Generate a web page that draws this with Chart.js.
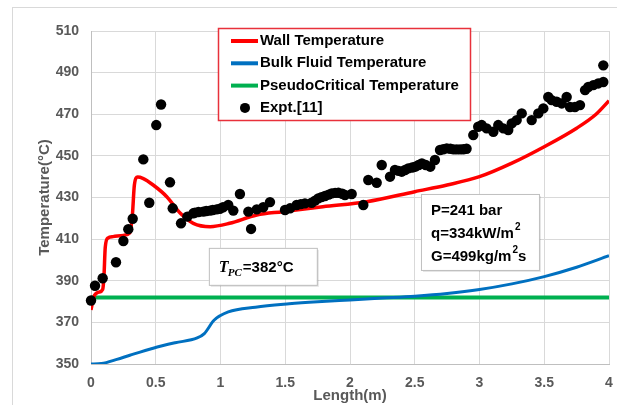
<!DOCTYPE html>
<html>
<head>
<meta charset="utf-8">
<script src="https://cdn.jsdelivr.net/npm/chart.js@4.4.1/dist/chart.umd.min.js"></script>
<style>
  html, body { margin: 0; padding: 0; background: #fff; }
  #wrap { width: 617px; height: 405px; position: relative; }
</style>
</head>
<body>
<div id="wrap"><canvas id="tempChart" width="617" height="405"></canvas></div>
<script>
'use strict';
// colours picked off the excel-ish original
var cWall = '#ff0000';
var cBulk = '#0070c0';
var cPc = '#00b050';
var cGrey = '#595959';
var fontFam = '"Liberation Sans", Arial, sans-serif';

// wall temperature (simulation)
var wallX = [0, 0.02, 0.06, 0.09, 0.1, 0.11, 0.13, 0.17, 0.25, 0.3, 0.32, 0.335, 0.36, 0.4, 0.48, 0.585, 0.69, 0.79, 0.92, 1.07, 1.28, 1.48, 1.79, 2.13, 2.5, 2.75, 3.0, 3.25, 3.5, 3.75, 3.9, 4.0];
var wallY = [376, 382, 384.5, 385.8, 392, 406, 410.5, 411.2, 411.8, 413, 422, 436, 439.8, 439.2, 436, 430.4, 422.4, 417.6, 416, 417.6, 421.6, 423.2, 425.6, 428, 432.8, 436, 440, 446.5, 454.4, 463.3, 470, 476.5];

// bulk fluid temperature (simulation)
var bulkX = [0, 0.08, 0.2, 0.3, 0.48, 0.65, 0.82, 0.875, 0.95, 1.06, 1.27, 1.53, 1.75, 2.0, 2.25, 2.5, 2.75, 3.0, 3.25, 3.5, 3.75, 4.0];
var bulkY = [350, 350.2, 352.2, 354.2, 357.6, 360.2, 362.5, 364.6, 371, 375, 377.3, 378.9, 379.9, 380.8, 381.7, 382.6, 383.9, 385.8, 388.5, 392, 396.5, 402];

// pseudocritical temperature
var pcX = [0, 4];
var pcY = [382, 382];

// experiment, ref [11]
var exptX = [0, 0.031, 0.09, 0.193, 0.25, 0.288, 0.322, 0.404, 0.45, 0.504, 0.541, 0.61, 0.631, 0.695, 0.744, 0.79, 0.803, 0.83, 0.867, 0.89, 0.919, 0.94, 0.97, 0.995, 1.02, 1.06, 1.099, 1.15, 1.215, 1.236, 1.28, 1.33, 1.382,
  1.498, 1.537, 1.588, 1.62, 1.652, 1.704, 1.73, 1.755, 1.78, 1.807, 1.835, 1.859, 1.885, 1.91, 1.94, 1.961, 2.013, 2.103, 2.141, 2.206, 2.245, 2.309, 2.347, 2.375, 2.399, 2.425, 2.45, 2.48, 2.504, 2.53, 2.555, 2.585, 2.62, 2.656, 2.695, 2.72, 2.747, 2.775, 2.8, 2.825, 2.85, 2.875, 2.9,
  2.952, 2.99, 3.017, 3.055, 3.107, 3.145, 3.184, 3.222, 3.249, 3.287, 3.326, 3.403, 3.454, 3.493, 3.531, 3.557, 3.596, 3.635, 3.673, 3.699, 3.737, 3.776, 3.815, 3.84, 3.879, 3.917, 3.956, 3.956];
var exptY = [380.5, 387.6, 391.2, 398.9, 409.1, 414.8, 419.8, 448.3, 427.5, 464.8, 474.7, 437.3, 424.8, 417.6, 420.8, 422.4, 422.7, 423, 423.2, 423.5, 423.7, 424, 424.3, 424.6, 425.3, 426.4, 423.7, 431.7, 423.2, 414.9, 424.3, 425.3, 427.8,
  424, 424.8, 426.4, 426.8, 427.2, 427.5, 428.5, 429.6, 430.2, 430.7, 431.4, 432, 432.2, 432.3, 431.8, 431.2, 431.7, 426.4, 438.4, 437.1, 445.6, 440, 443.2, 442.8, 442.4, 443.2, 444, 444.4, 444.8, 445.6, 446.4, 445.6, 444.8, 448, 452.8, 453.2, 453.6, 453.4, 453.1, 453.1, 453.1, 453.2, 453.4,
  460, 464, 464.8, 463.2, 461.6, 464.8, 463.2, 462.4, 465.6, 467.2, 470.4, 467.2, 470.4, 472.8, 478.3, 476.8, 476, 475.2, 478.3, 473.5, 473.5, 474.4, 481.6, 483.1, 484, 484.8, 485.5, 493.5];

// y ticks / x ticks
var yMin = 350, yMax = 510, yStep = 20;
var xMin = 0, xMax = 4, xStep = 0.5;

function pairs(xs, ys) {
  return xs.map(function (x, i) { return {x: x, y: ys[i]}; });
}

// little box + text things that excel had floating on the chart
var boxPlugin = {
  id: 'boxes',
  afterDatasetsDraw: function (chart) {
    var ctx = chart.ctx;
    var xs = chart.scales.x, ys = chart.scales.y;
    ctx.save();

    function greyBox(x0, y0, x1, y1) {
      ctx.fillStyle = 'rgba(0,0,0,0.10)';
      ctx.fillRect(x0 + 2, y0 + 2, x1 - x0, y1 - y0);
      ctx.fillStyle = '#fff';
      ctx.fillRect(x0, y0, x1 - x0, y1 - y0);
      ctx.strokeStyle = '#bfbfbf';
      ctx.lineWidth = 1;
      ctx.strokeRect(x0 + 0.5, y0 + 0.5, x1 - x0, y1 - y0);
    }

    // T_PC box
    var bx = xs.getPixelForValue(0.91), by = ys.getPixelForValue(405.8);
    greyBox(bx, by, bx + 108, by + 37);
    ctx.fillStyle = '#000';
    ctx.textBaseline = 'alphabetic';
    ctx.font = 'italic bold 16px "Liberation Serif", "Times New Roman", serif';
    ctx.fillText('T', bx + 10, by + 24);
    ctx.font = 'italic bold 11px "Liberation Serif", "Times New Roman", serif';
    ctx.fillText('PC', bx + 19, by + 28);
    ctx.font = 'bold 15px ' + fontFam;
    ctx.fillText('=382\u00b0C', bx + 34, by + 24);

    // conditions box
    var px = xs.getPixelForValue(2.548), py = ys.getPixelForValue(431.7);
    greyBox(px, py, px + 118, py + 76);
    ctx.fillStyle = '#000';
    var lines = [['P=241 bar', ''], ['q=334kW/m', '2'], ['G=499kg/m', '2', 's']];
    lines.forEach(function (ln, i) {
      var ty = py + 21 + i * 23;
      ctx.font = 'bold 15px ' + fontFam;
      ctx.fillText(ln[0], px + 10, ty);
      var w = ctx.measureText(ln[0]).width;
      if (ln[1]) {
        ctx.font = 'bold 10px ' + fontFam;
        ctx.fillText(ln[1], px + 10 + w + 1, ty - 8);
        var w2 = ctx.measureText(ln[1]).width;
        if (ln[2]) {
          ctx.font = 'bold 15px ' + fontFam;
          ctx.fillText(ln[2], px + 10 + w + w2 + 1, ty);
        }
      }
    });

    // legend
    var lx = 218, ly = 28, lw = 252, lh = 92;
    ctx.fillStyle = '#fff';
    ctx.fillRect(lx, ly, lw, lh);
    ctx.strokeStyle = '#e8313b';
    ctx.lineWidth = 1.5;
    ctx.strokeRect(lx + 0.5, ly + 0.5, lw, lh);
    ctx.font = 'bold 15px ' + fontFam;
    ctx.textBaseline = 'middle';
    chart.data.datasets.forEach(function (ds) {
      var ry = ly + 13 + ds.legendRow * 22.3;
      if (ds.showLine === false) {
        ctx.fillStyle = '#000';
        ctx.beginPath();
        ctx.arc(lx + 27, ry, 5, 0, Math.PI * 2);
        ctx.fill();
      } else {
        ctx.strokeStyle = ds.borderColor;
        ctx.lineWidth = 4;
        ctx.beginPath();
        ctx.moveTo(lx + 13, ry);
        ctx.lineTo(lx + 40, ry);
        ctx.stroke();
      }
      ctx.fillStyle = '#000';
      ctx.fillText(ds.label, lx + 42, ry);
    });
    ctx.restore();
  }
};

// light frame round the whole thing (only top and left end up on screen)
var framePlugin = {
  id: 'frame',
  beforeDraw: function (chart) {
    var ctx = chart.ctx;
    ctx.save();
    ctx.strokeStyle = '#d9d9d9';
    ctx.lineWidth = 1;
    ctx.strokeRect(12.5, 7.5, 620, 420);
    ctx.restore();
  }
};

function makeChart() {
  var ctx = document.getElementById('tempChart');
  var tickFont = {family: fontFam, size: 14, weight: 'bold'};
  var titleFont = {family: fontFam, size: 15, weight: 'bold'};
  new Chart(ctx, {
    type: 'line',
    data: {
      datasets: [
        {label: 'Expt.[11]', data: pairs(exptX, exptY), showLine: false, clip: false, pointRadius: 5.2, pointBackgroundColor: '#000', pointBorderWidth: 0, borderColor: '#000', backgroundColor: '#000', order: 0, legendRow: 3},
        {label: 'Wall Temperature', data: pairs(wallX, wallY), borderColor: cWall, borderWidth: 3.5, pointRadius: 0, cubicInterpolationMode: 'monotone', order: 1, legendRow: 0},
        {label: 'Bulk Fluid Temperature', data: pairs(bulkX, bulkY), borderColor: cBulk, borderWidth: 3, pointRadius: 0, cubicInterpolationMode: 'monotone', order: 2, legendRow: 1},
        {label: 'PseudoCritical Temperature', data: pairs(pcX, pcY), borderColor: cPc, borderWidth: 4, pointRadius: 0, order: 3, legendRow: 2}
      ]
    },
    options: {
      responsive: false,
      animation: false,
      layout: {padding: {left: 0, top: 31, right: 8, bottom: 0}},
      plugins: {legend: {display: false}, tooltip: {enabled: false}},
      scales: {
        x: {
          type: 'linear', min: xMin, max: xMax,
          ticks: {stepSize: xStep, autoSkip: false, maxRotation: 0, padding: 11, color: cGrey, font: tickFont,
            callback: function (v) { return String(v); }},
          grid: {color: '#d9d9d9', drawTicks: false},
          border: {color: '#bfbfbf'},
          title: {display: true, text: 'Length(m)', color: cGrey, font: titleFont, padding: 0},
          // tick padding was also being added on the right, kill it
          afterFit: function (s) { s.height = 41; s.paddingRight = 0; s.paddingLeft = 0; }
        },
        y: {
          min: yMin, max: yMax,
          ticks: {stepSize: yStep, padding: 12, color: cGrey, font: tickFont},
          grid: {color: '#d9d9d9', drawTicks: false},
          border: {color: '#bfbfbf'},
          title: {display: true, text: 'Temperature(\u00b0C)', color: cGrey, font: titleFont, padding: {top: 36, bottom: 0}},
          afterFit: function (s) { s.width = 91; }
        }
      }
    },
    plugins: [framePlugin, boxPlugin]
  });
}
makeChart();
</script>
</body>
</html>
